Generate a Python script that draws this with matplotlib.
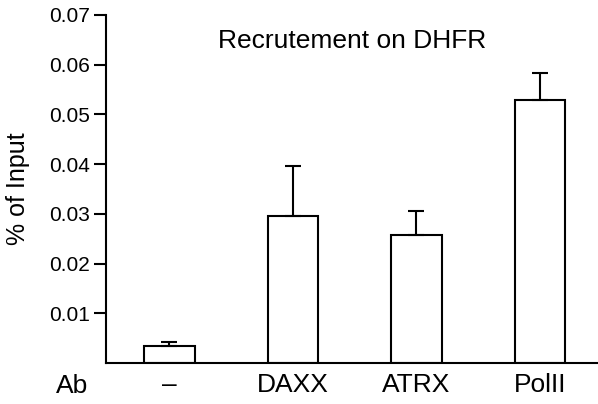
import matplotlib
matplotlib.use("Agg")
import matplotlib.pyplot as plt
import numpy as np

# Données
categories = ["–", "DAXX", "ATRX", "PolII"]
valeurs = [0.0034, 0.0296, 0.0258, 0.0529]
erreurs = [0.0008, 0.0100, 0.0048, 0.0054]
yticks = [0.01, 0.02, 0.03, 0.04, 0.05, 0.06, 0.07]

plt.rcParams['font.family'] = ['Liberation Sans', 'DejaVu Sans']

fig = plt.figure(figsize=(5.98, 4.04), dpi=100)
ax = fig.add_axes([106 / 598, 1 - 363 / 404, 492 / 598, 348 / 404])

x = np.arange(len(categories))
ax.bar(x, valeurs, width=0.41, color='white', edgecolor='black', linewidth=1.5,
       yerr=[np.zeros(len(erreurs)), erreurs],
       error_kw=dict(ecolor='black', elinewidth=1.5, capsize=6, capthick=1.5))

ax.set_xlim(-0.514, 3.47)
ax.set_ylim(0, 0.07)
ax.set_yticks(yticks)
ax.set_yticklabels([f"{v:.2f}" for v in yticks], fontsize=15)
ax.set_xticks(x)
ax.set_xticklabels(categories, fontsize=19)

ax.tick_params(axis='y', length=8.6, width=1.5, pad=3)
ax.tick_params(axis='x', length=0, pad=7.5)

for side in ['top', 'right']:
    ax.spines[side].set_visible(False)
for side in ['left', 'bottom']:
    ax.spines[side].set_linewidth(1.5)

ax.set_ylabel('% of Input', fontsize=18, va='center')
ax.yaxis.set_label_coords(-0.179, 0.5)

ax.text(0.5, 0.905, 'Recrutement on DHFR', transform=ax.transAxes,
        ha='center', va='baseline', fontsize=19)

# Étiquette "Ab" à gauche des catégories
ax.text(-0.069, -0.066, 'Ab', transform=ax.transAxes,
        ha='center', va='center', fontsize=19)

fig.savefig('out.png', dpi=100)
